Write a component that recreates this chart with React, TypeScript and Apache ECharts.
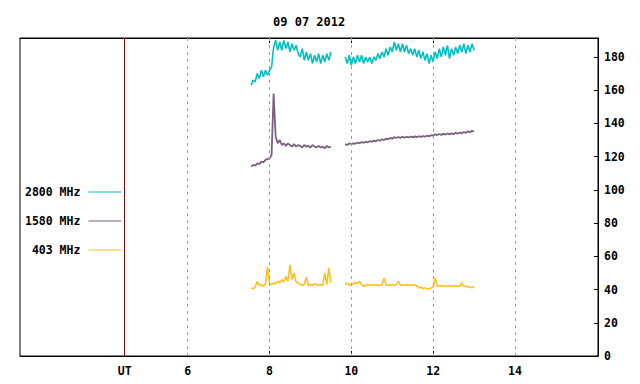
import { useEffect, useRef } from 'react';
import * as echarts from 'echarts';

const TITLE = '09 07 2012';
const SERIES_NAMES = ['2800 MHz', '1580 MHz', ' 403 MHz'];
const SERIES_COLORS = ['#00c0c0', '#7d5f80', '#ffc020'];
const SERIES_WIDTHS = [1.6, 1.8, 1.6];

// sampling of the two observing segments (hours UT)
const SEG_A_START = 7.55;
const SEG_B_START = 9.85;
const SAMPLE_STEP = 0.05;
const GAP_TIME = 9.7;

const GRID_HOURS = [6, 8, 10, 12, 14];
const TICK_HOURS = [8, 10, 12];
const UT_HOUR = 4.46;
const X_MIN = 1.9;
const X_MAX = 16.03;
const Y_MAX = 191.4;

// 2800 MHz
const F2800_A = [163, 166, 165, 170, 167, 172, 168, 172, 169, 172,
  174, 186, 190, 184, 189, 184, 190, 185, 189, 183,
  188, 184, 187, 182, 180, 185, 178, 183, 178, 182,
  176, 181, 177, 182, 176, 181, 177, 182, 178, 183];
const F2800_B = [180, 176, 181, 175,
  180, 176, 181, 177, 181, 176, 180, 177, 180, 176,
  180, 178, 182, 179, 183, 180, 185, 181, 186, 183,
  189, 184, 188, 183, 188, 183, 187, 182, 185, 181,
  185, 180, 184, 179, 183, 178, 182, 176, 181, 177,
  183, 179, 185, 180, 186, 181, 187, 179, 185, 181,
  186, 182, 187, 183, 188, 182, 187, 183, 188, 184];

// 1580 MHz
const F1580_A = [114, 115, 114.5, 116, 115.5, 117, 116.5, 118, 118.5, 119,
  121, 158, 132, 128, 130, 127, 128, 126.5, 128, 127,
  126, 127.5, 126, 127, 126.5, 125.5, 127, 126, 126.5, 125.5,
  127, 126, 125.5, 126.5, 125.5, 126, 125, 126.5, 125.5, 126];
const F1580_B = [127.5, 127, 128, 127.5,
  128, 127.8, 128.5, 128, 128.8, 128.3, 129, 128.6, 129.3, 129,
  129.6, 129.2, 130, 129.6, 130.4, 130, 130.8, 130.4, 131.3, 130.8,
  131.7, 131.2, 131.8, 131.3, 131.9, 131.4, 132, 131.5, 132.1, 131.6,
  132.2, 131.7, 132.3, 131.8, 132.4, 132, 132.6, 132.2, 132.9, 132.6,
  133.4, 133, 133.6, 133.1, 133.7, 133.3, 133.9, 133.4, 134, 133.6,
  134.3, 133.8, 134.5, 134, 134.8, 134.3, 135.3, 134.6, 135.6, 135];

// 403 MHz
const F403_A = [41, 40.5, 41.5, 45, 42.5, 43, 42, 43.5, 53.6, 43.5,
  43, 44, 43.5, 45, 44, 46, 44.5, 48, 45, 54.8,
  46, 50, 44.5, 44, 43, 42.5, 43, 47.5, 42.5, 43,
  42.5, 43.5, 43, 42.5, 43, 42.5, 50, 43, 53, 44];
const F403_B = [43, 44, 42.5, 43.5,
  43, 44.5, 43.5, 45, 43, 42, 42.5, 43, 42.5, 43,
  42.5, 43, 42.5, 42.5, 43, 47, 42.5, 43, 42.5, 43,
  42.5, 43, 45, 42.5, 43, 42.5, 43, 42.5, 43, 42.5,
  43, 42, 41, 41.5, 40.5, 41, 40.5, 40.5, 41, 41.5,
  47, 42, 42.5, 42, 42.5, 42, 42, 42.5, 42, 42,
  42.5, 42, 42, 44, 42, 42, 41.5, 41.5, 41, 42];

const FONT = "'DejaVu Sans Mono', 'Liberation Mono', monospace";

function buildData(a: number[], b: number[]) {
  const out: any[] = [];
  a.forEach((v, i) => out.push([+(SEG_A_START + i * SAMPLE_STEP).toFixed(2), v]));
  out.push([GAP_TIME, '-']);
  b.forEach((v, i) => out.push([+(SEG_B_START + i * SAMPLE_STEP).toFixed(2), v]));
  return out;
}

export default function App() {
  const ref = useRef<HTMLDivElement>(null);
  useEffect(() => {
    if (!ref.current) return;
    const chart = echarts.init(ref.current, undefined, { renderer: 'svg' });
    const seriesValues = [[F2800_A, F2800_B], [F1580_A, F1580_B], [F403_A, F403_B]];
    const labelStyle = { fontFamily: FONT, fontSize: 11.5, fontWeight: 'bold' as const, color: '#000' };
    chart.setOption({
      animation: false,
      backgroundColor: '#fff',
      color: SERIES_COLORS,
      title: {
        text: TITLE,
        left: 268,
        top: 11,
        textStyle: { fontFamily: FONT, fontSize: 12, fontWeight: 'bold', color: '#000' },
      },
      legend: {
        orient: 'vertical',
        left: 20,
        top: 180,
        align: 'right',
        icon: 'rect',
        itemWidth: 33,
        itemHeight: 1,
        itemGap: 15,
        data: SERIES_NAMES,
        textStyle: { ...labelStyle, lineHeight: 14, padding: [0, 3, 0, 0] },
      },
      grid: { left: 20, right: 42, top: 38, bottom: 28, show: true, borderColor: '#000', borderWidth: 1 },
      xAxis: [
        {
          type: 'value', min: X_MIN, max: X_MAX, position: 'bottom',
          axisLine: { show: true, lineStyle: { color: '#000', width: 1 } },
          axisTick: { show: true, inside: true, length: 5, customValues: TICK_HOURS, lineStyle: { color: '#000' } },
          axisLabel: {
            ...labelStyle, margin: 9,
            customValues: [UT_HOUR, ...GRID_HOURS],
            formatter: (v: number) => (Math.abs(v - UT_HOUR) < 1e-6 ? 'UT' : String(v)),
          },
          splitLine: { show: false },
        },
        {
          type: 'value', min: X_MIN, max: X_MAX, position: 'top',
          axisLine: { show: true, lineStyle: { color: '#000', width: 1 } },
          axisTick: { show: true, inside: true, length: 5, customValues: TICK_HOURS, lineStyle: { color: '#000' } },
          axisLabel: { show: false },
          splitLine: { show: false },
        },
      ],
      yAxis: {
        type: 'value', min: 0, max: Y_MAX, interval: 20, position: 'right',
        axisLine: { show: true, lineStyle: { color: '#000', width: 1 } },
        axisTick: { show: true, inside: true, length: 4, lineStyle: { color: '#000' } },
        axisLabel: { ...labelStyle, margin: 6, showMaxLabel: false },
        splitLine: { show: false },
      },
      series: SERIES_NAMES.map((name, i) => ({
        name,
        type: 'line',
        xAxisIndex: 0,
        data: buildData(seriesValues[i][0], seriesValues[i][1]),
        showSymbol: false,
        symbol: 'none',
        connectNulls: false,
        lineStyle: { width: SERIES_WIDTHS[i], color: SERIES_COLORS[i] },
        itemStyle: { color: SERIES_COLORS[i] },
        z: 3 - i,
        markLine: i === 2 ? {
          silent: true,
          symbol: ['none', 'none'],
          label: { show: false },
          lineStyle: { color: '#a0a0a0', type: [3, 4], width: 1 },
          data: [
            ...GRID_HOURS.map((h) => ({ xAxis: h })),
            { xAxis: UT_HOUR, lineStyle: { color: '#8b0000', type: 'solid', width: 1 } },
          ],
        } : undefined,
      })),
    });
    return () => chart.dispose();
  }, []);
  return <div ref={ref} style={{ position: 'fixed', left: 0, top: 0, width: 640, height: 384 }} />;
}
